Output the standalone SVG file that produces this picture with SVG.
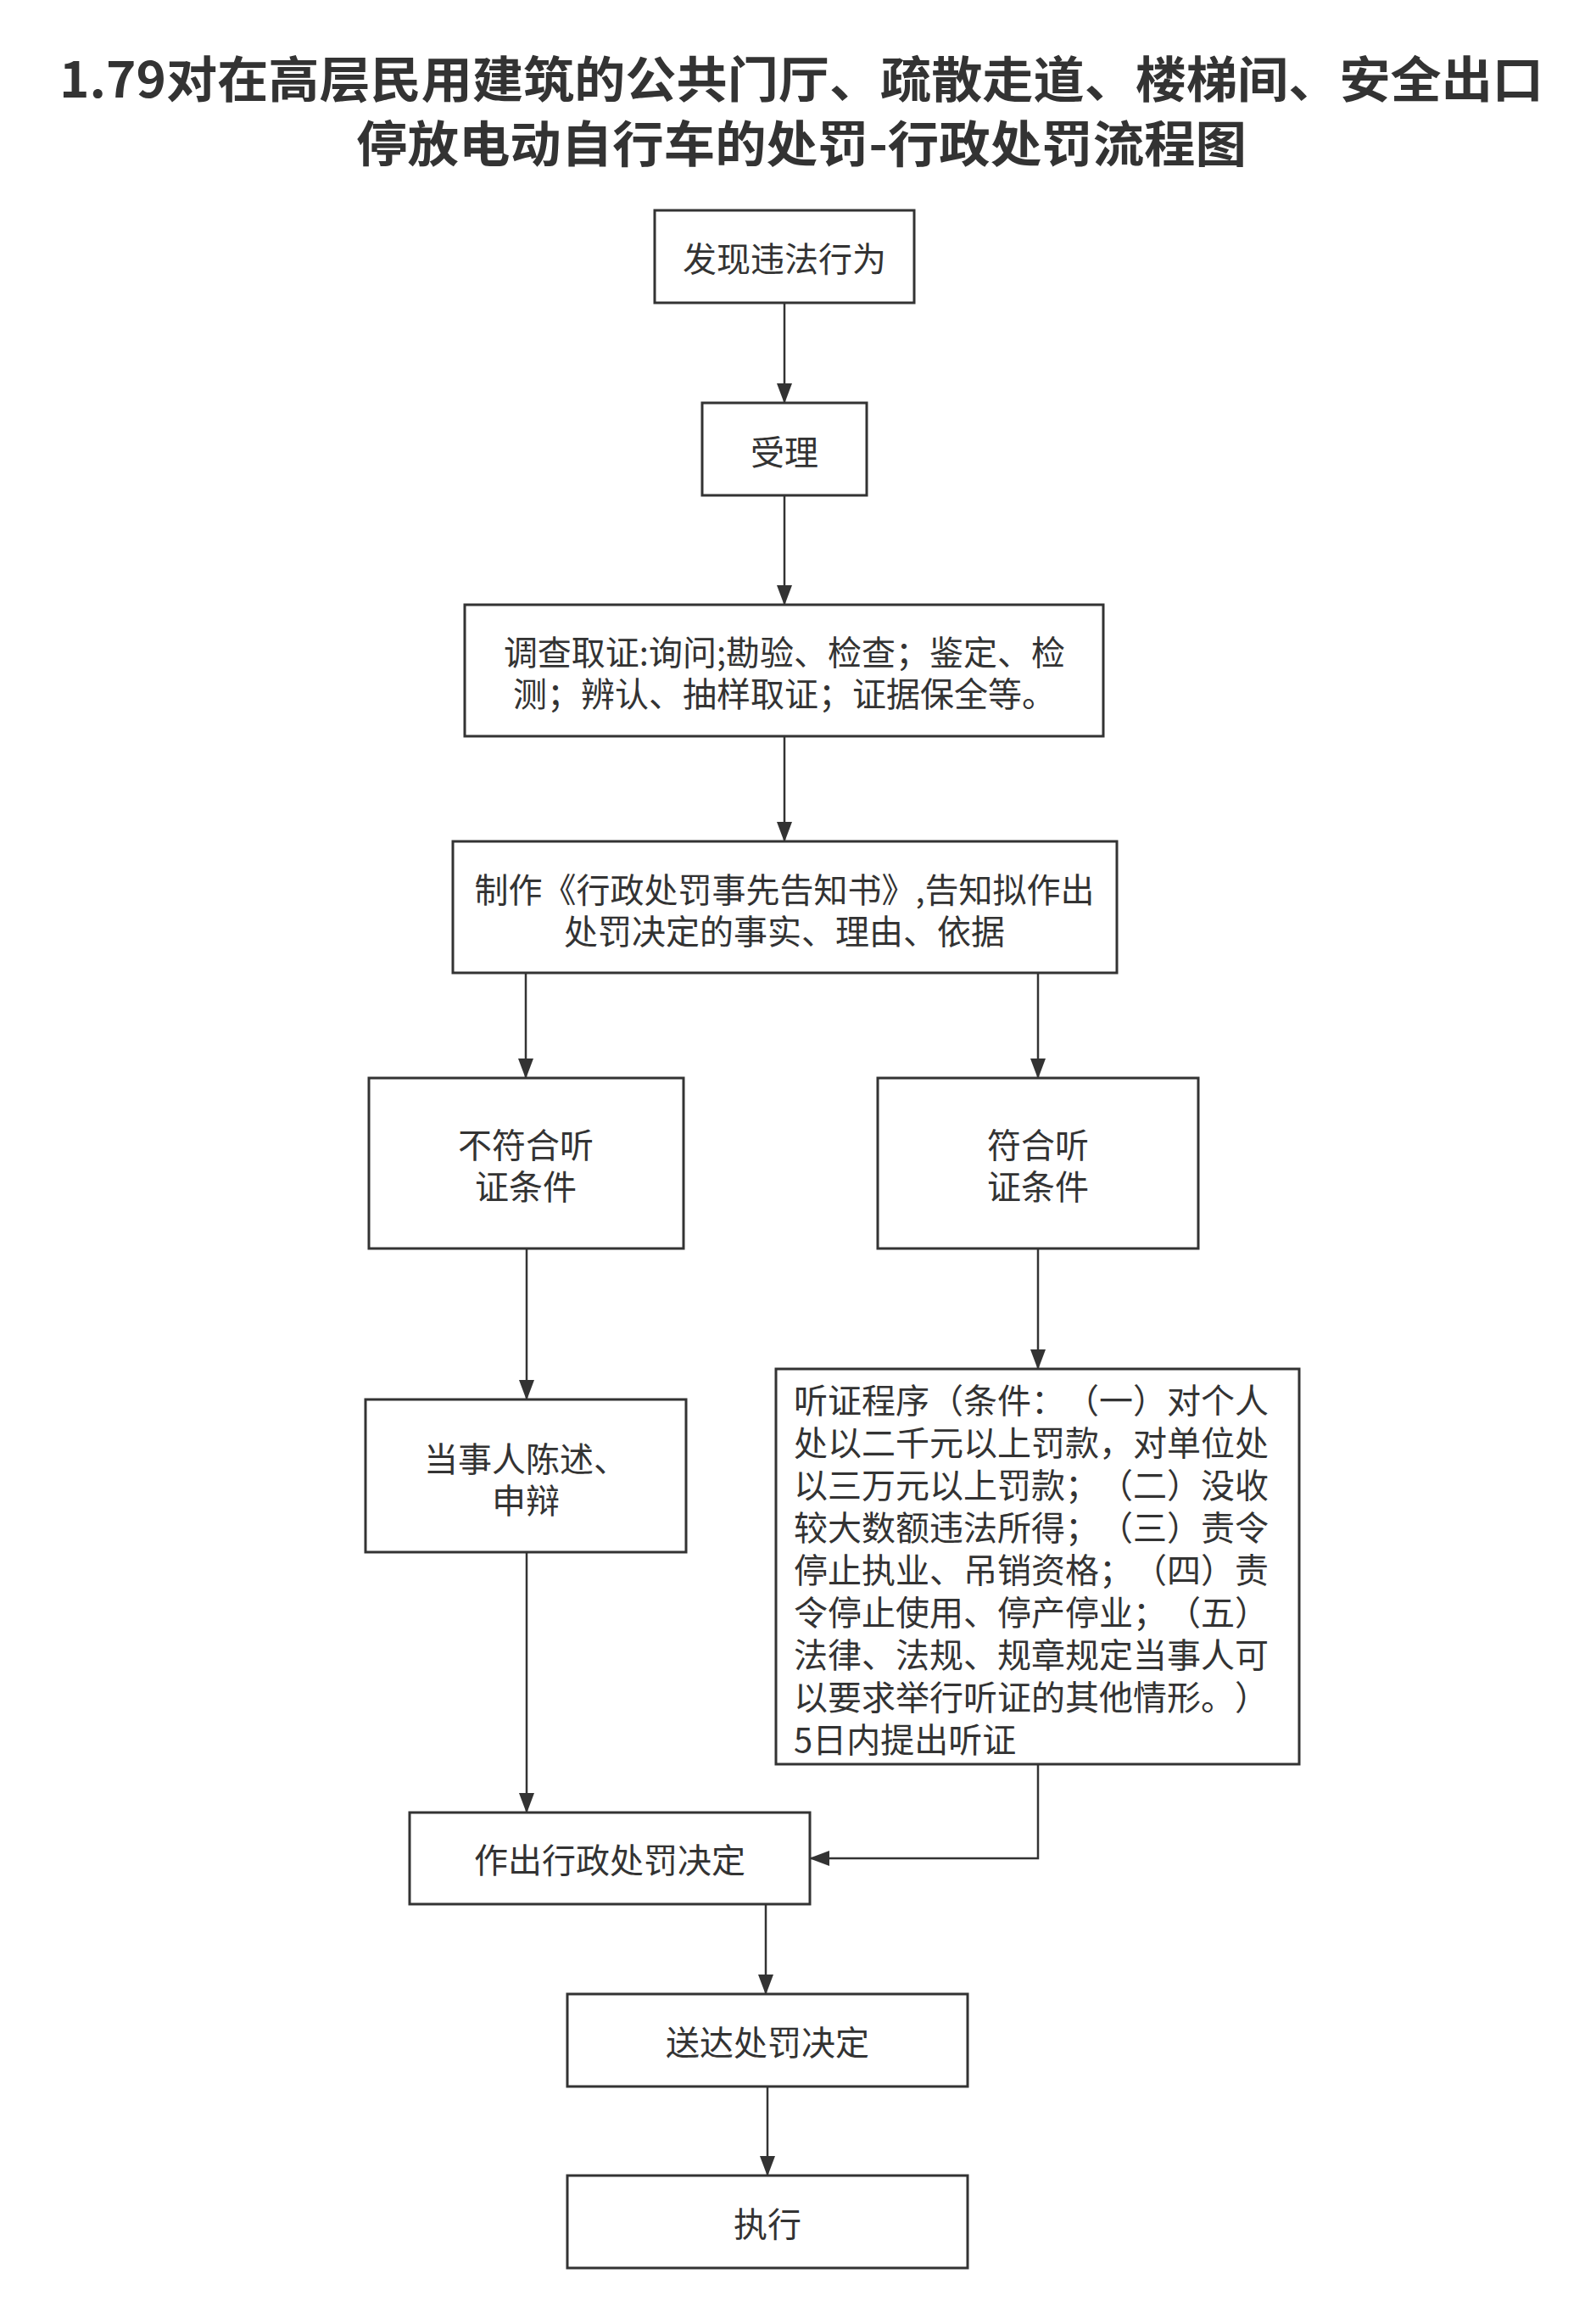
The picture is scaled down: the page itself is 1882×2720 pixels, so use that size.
<svg xmlns="http://www.w3.org/2000/svg" width="1882" height="2720" viewBox="0 0 1882 2720">
<style>
.bg{fill:#ffffff}
.box{fill:#ffffff;stroke:#333333;stroke-width:3}
.t{font-family:"Noto Sans CJK SC","Noto Sans",sans-serif;font-size:40px;fill:#333333;dominant-baseline:central;text-spacing-trim:space-all}
.c{text-anchor:middle}
.title{font-family:"Noto Sans CJK SC","Noto Sans",sans-serif;font-size:58px;font-weight:bold;fill:#333333;text-anchor:middle;dominant-baseline:central;text-spacing-trim:space-all}
.edge{fill:none;stroke:#333333;stroke-width:2.5;marker-end:url(#arr)}
</style>
<defs>
<marker id="arr" markerUnits="userSpaceOnUse" markerWidth="24" markerHeight="18" refX="23" refY="9" orient="auto">
<path d="M0,0 L24,9 L0,18 z" fill="#333333"/>
</marker>
</defs>
<rect class="bg" x="0" y="0" width="1882" height="2720"/>
<g id="title">
<text class="title" x="945" y="90" textLength="1750" lengthAdjust="spacingAndGlyphs">1.79对在高层民用建筑的公共门厅、疏散走道、楼梯间、安全出口</text>
<text class="title" x="945" y="166" textLength="1050" lengthAdjust="spacingAndGlyphs">停放电动自行车的处罚-行政处罚流程图</text>
</g>
<g id="connectors">
<path class="edge" d="M925,357 L925,475"/>
<path class="edge" d="M925,584 L925,713"/>
<path class="edge" d="M925,868 L925,992"/>
<path class="edge" d="M620,1147 L620,1271"/>
<path class="edge" d="M1224,1147 L1224,1271"/>
<path class="edge" d="M621,1472 L621,1650"/>
<path class="edge" d="M1224,1472 L1224,1614"/>
<path class="edge" d="M621,1830 L621,2137"/>
<path class="edge" d="M1224,2080 L1224,2191 L955,2191"/>
<path class="edge" d="M903,2245 L903,2351"/>
<path class="edge" d="M905,2460 L905,2565"/>
</g>
<g id="n1">
<rect class="box" x="772" y="248" width="306" height="109"/>
<text class="t c" x="925" y="303">发现违法行为</text>
</g>
<g id="n2">
<rect class="box" x="828" y="475" width="194" height="109"/>
<text class="t c" x="925" y="531">受理</text>
</g>
<g id="n3">
<rect class="box" x="548" y="713" width="753" height="155"/>
<text class="t c" x="925" y="767">调查取证:询问;勘验、检查；鉴定、检</text>
<text class="t c" x="925" y="816">测；辨认、抽样取证；证据保全等。</text>
</g>
<g id="n4">
<rect class="box" x="534" y="992" width="783" height="155"/>
<text class="t c" x="925" y="1047">制作《行政处罚事先告知书》,告知拟作出</text>
<text class="t c" x="925" y="1096">处罚决定的事实、理由、依据</text>
</g>
<g id="n5">
<rect class="box" x="435" y="1271" width="371" height="201"/>
<text class="t c" x="620" y="1348">不符合听</text>
<text class="t c" x="620" y="1397">证条件</text>
</g>
<g id="n6">
<rect class="box" x="1035" y="1271" width="378" height="201"/>
<text class="t c" x="1224" y="1348">符合听</text>
<text class="t c" x="1224" y="1397">证条件</text>
</g>
<g id="n7">
<rect class="box" x="431" y="1650" width="378" height="180"/>
<text class="t c" x="620" y="1718">当事人陈述、</text>
<text class="t c" x="620" y="1767">申辩</text>
</g>
<g id="n8">
<rect class="box" x="915" y="1614" width="617" height="466"/>
<text class="t" x="936" y="1649">听证程序（条件：（一）对个人</text>
<text class="t" x="936" y="1699">处以二千元以上罚款，对单位处</text>
<text class="t" x="936" y="1749">以三万元以上罚款；（二）没收</text>
<text class="t" x="936" y="1799">较大数额违法所得；（三）责令</text>
<text class="t" x="936" y="1849">停止执业、吊销资格；（四）责</text>
<text class="t" x="936" y="1899">令停止使用、停产停业；（五）</text>
<text class="t" x="936" y="1949">法律、法规、规章规定当事人可</text>
<text class="t" x="936" y="1999">以要求举行听证的其他情形。）</text>
<text class="t" x="936" y="2049">5日内提出听证</text>
</g>
<g id="n9">
<rect class="box" x="483" y="2137" width="472" height="108"/>
<text class="t c" x="719" y="2191">作出行政处罚决定</text>
</g>
<g id="n10">
<rect class="box" x="669" y="2351" width="472" height="109"/>
<text class="t c" x="905" y="2406">送达处罚决定</text>
</g>
<g id="n11">
<rect class="box" x="669" y="2565" width="472" height="109"/>
<text class="t c" x="905" y="2620">执行</text>
</g>
</svg>
